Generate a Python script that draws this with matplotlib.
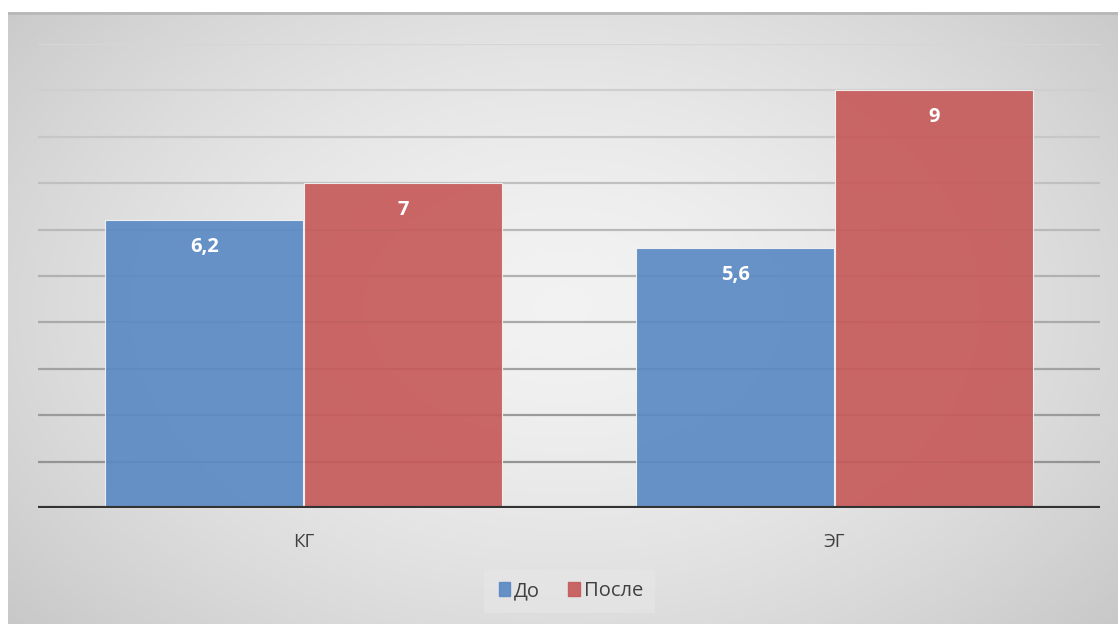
import numpy as np
import matplotlib
matplotlib.use("Agg")
import matplotlib.pyplot as plt
from matplotlib.patches import Rectangle

plt.rcParams['font.family'] = ['Open Sans', 'DejaVu Sans']

# Data
categories = ["КГ", "ЭГ"]
series_names = ["До", "После"]
before = [6.2, 5.6]
after = [7, 9]
y_ticks = list(range(0, 11))

W, H = 1118, 624
fig = plt.figure(figsize=(W / 100, H / 100), dpi=100)
fig.patch.set_facecolor("white")

# Radial grey gradient background for the chart area
bg = fig.add_axes([8 / W, 0, 1 - 8 / W, (H - 12) / H], zorder=0)
bg.set_axis_off()
yy, xx = np.mgrid[0:1:300j, 0:1:600j]
r = np.sqrt(((xx - 0.5) / 0.62) ** 2 + ((yy - 0.52) / 0.75) ** 2)
val = 0.95 - 0.15 * np.clip(r, 0, 1.2) ** 1.6
bg.imshow(np.dstack([val, val, val]), aspect="auto", extent=[0, 1, 0, 1],
          origin="lower", interpolation="bilinear")
bg.plot([0, 1], [0.999, 0.999], color="#b8b8b8", lw=2, transform=bg.transAxes)
bg.set_xlim(0, 1)
bg.set_ylim(0, 1)

# Plot area
left, right = 38, 1100
bottom_px, top_px = 508, 44
ax = fig.add_axes([left / W, (H - bottom_px) / H, (right - left) / W,
                   (bottom_px - top_px) / H], zorder=1)
ax.patch.set_alpha(0)
ax.set_xlim(-0.5, 1.5)
ax.set_ylim(0, 10)

# Gridlines: lighter near the top, darker near the bottom
for t in y_ticks[1:]:
    f = t / 10
    c = (1 - f) * np.array([0.55, 0.55, 0.55]) + f * np.array([0.84, 0.84, 0.84])
    ax.axhline(t, color=c, lw=1.6, zorder=1)

x = np.arange(len(categories))
bw = 0.372
colors = ["#5b8ac4", "#c65a5a"]
for i, (vals, col) in enumerate(zip([before, after], colors)):
    offs = (-0.5 + i) * bw + (-0.001 if i == 0 else 0.001)
    bars = ax.bar(x + offs, vals, bw, color=col, alpha=0.92,
                  edgecolor="#f4f4f4", linewidth=0.8, zorder=2)
    for b, v in zip(bars, vals):
        label = f"{v:g}".replace(".", ",")
        ax.annotate(label, (b.get_x() + b.get_width() / 2, v),
                    xytext=(0, -19.5), textcoords="offset points",
                    ha="center", va="center", color="white",
                    fontsize=14.5, fontweight="bold", zorder=3)

ax.axhline(0, color="#333333", lw=3, zorder=4)

for s in ax.spines.values():
    s.set_visible(False)
ax.set_yticks([])
ax.set_xticks(x)
ax.set_xticklabels(categories, fontsize=13.5, color="#404040")
ax.tick_params(axis="x", length=0, pad=18)

# Legend
leg_bg = Rectangle((484 / W, 1 - 613 / H), (655 - 484) / W, (613 - 570) / H,
                   transform=fig.transFigure, facecolor="#e8e8e8",
                   edgecolor="none", zorder=5, alpha=0.5)
fig.patches.append(leg_bg)
handles = [Rectangle((0, 0), 1, 1, color=c, alpha=0.92) for c in colors]
leg = fig.legend(handles, series_names, loc="center",
                 bbox_to_anchor=(571 / W, 1 - 591 / H), ncol=2, frameon=False,
                 fontsize=14.5, handlelength=0.55, handleheight=0.65,
                 handletextpad=0.2, columnspacing=1.4)
for t in leg.get_texts():
    t.set_color("#404040")

fig.savefig("out.png", dpi=100, facecolor=fig.get_facecolor())
